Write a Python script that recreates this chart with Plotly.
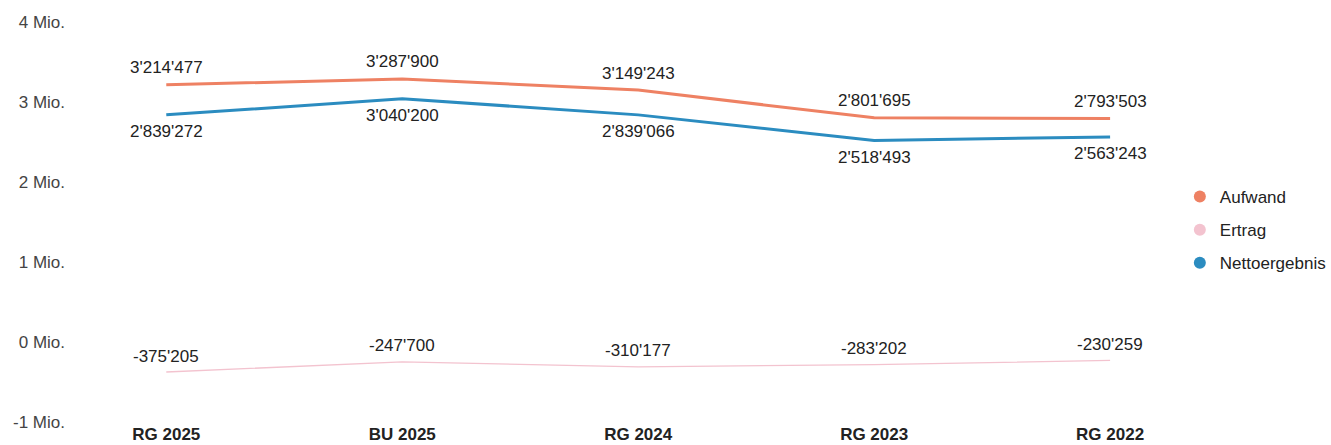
import plotly.graph_objects as go

# Kategorien und Werte (CHF)
kategorien = ["RG 2025", "BU 2025", "RG 2024", "RG 2023", "RG 2022"]
aufwand = [3214477, 3287900, 3149243, 2801695, 2793503]
ertrag = [-375205, -247700, -310177, -283202, -230259]
nettoergebnis = [2839272, 3040200, 2839066, 2518493, 2563243]

y_ticks = [-1_000_000, 0, 1_000_000, 2_000_000, 3_000_000, 4_000_000]
y_tick_labels = ["-1 Mio.", "0 Mio.", "1 Mio.", "2 Mio.", "3 Mio.", "4 Mio."]

FONT = "Liberation Sans, Arial, sans-serif"
C_AUFWAND = "#EE8163"
C_ERTRAG = "#F3C3CF"
C_NETTO = "#2B8CC0"


def fmt(v):
    s = f"{abs(v):,}".replace(",", "'")
    return ("-" if v < 0 else "") + s


# name, Werte, Farbe, Linienbreite, Versatz der Wertbeschriftung (px)
series = [
    ("Aufwand", aufwand, C_AUFWAND, 3, 17),
    ("Ertrag", ertrag, C_ERTRAG, 1.3, 16),
    ("Nettoergebnis", nettoergebnis, C_NETTO, 3, -17),
]

fig = go.Figure()
for name, vals, color, width, shift in series:
    fig.add_trace(go.Scatter(
        x=kategorien, y=vals, mode="lines", name=name,
        line=dict(color=color, width=width),
        showlegend=False, hoverinfo="skip",
    ))
    for cat, v in zip(kategorien, vals):
        fig.add_annotation(
            x=cat, y=v, text=fmt(v), showarrow=False,
            xanchor="center", yanchor="middle", yshift=shift,
            font=dict(family=FONT, size=17, color="#222222"),
        )

# Legendeneinträge mit Kreis-Symbolen
for i, (name, vals, color, width, shift) in enumerate(series):
    fig.add_trace(go.Scatter(
        x=[None], y=[None], mode="markers", name=name,
        marker=dict(size=12, color=color, symbol="circle"),
        legendgroup=f"g{i}", showlegend=True,
    ))

fig.update_layout(
    width=1331, height=445,
    margin=dict(l=66, r=0, t=22, b=23),
    paper_bgcolor="white", plot_bgcolor="white",
    font=dict(family=FONT, size=17, color="#333333"),
    showlegend=True,
    legend=dict(
        x=0.884, xanchor="left", y=0.48, yanchor="middle",
        font=dict(family=FONT, size=17, color="#222222"),
        tracegroupgap=8, itemsizing="constant",
        bgcolor="rgba(0,0,0,0)",
    ),
    xaxis=dict(
        type="category", range=[-0.425, 4.915], automargin=False,
        showgrid=False, zeroline=False, showline=False, ticks="",
        tickfont=dict(family=FONT, size=17, color="#222222", weight="bold"),
    ),
    yaxis=dict(
        range=[-1_000_000, 4_000_000], automargin=False,
        tickvals=y_ticks, ticktext=y_tick_labels,
        showgrid=False, zeroline=False, showline=False, ticks="",
        tickfont=dict(family=FONT, size=17, color="#444444"),
    ),
)

fig.write_html("out.html")
